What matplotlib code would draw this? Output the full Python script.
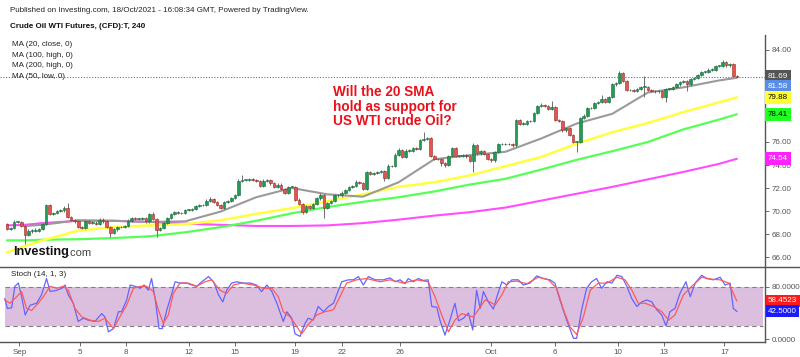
import numpy as np
import matplotlib
matplotlib.use("Agg")
import matplotlib.pyplot as plt
from matplotlib.transforms import blended_transform_factory
from matplotlib.lines import Line2D

plt.rcParams['font.family'] = ['Liberation Sans', 'DejaVu Sans']

# ---- price data (4h candles) ----
first_open = 68.87
close_px = [
    68.43, 68.55, 69.04, 69.07, 68.70, 67.90, 68.26, 68.30, 68.30, 68.45,
    68.87, 70.52, 69.74, 69.85, 70.00, 70.05, 70.26, 69.50, 69.20, 69.10,
    68.60, 68.55, 69.10, 69.00, 69.00, 68.90, 69.25, 69.10, 68.60, 68.10,
    68.40, 68.60, 68.60, 68.70, 69.15, 69.40, 69.30, 69.30, 69.35, 69.10,
    69.77, 69.30, 68.35, 68.50, 69.00, 69.40, 69.74, 69.94, 69.80, 69.85,
    70.10, 70.10, 70.20, 70.45, 70.50, 70.50, 70.90, 71.05, 70.80, 70.55,
    70.30, 70.80, 70.85, 71.15, 71.40, 72.64, 72.70, 72.70, 72.80, 72.70,
    72.60, 72.20, 72.65, 72.70, 72.40, 72.10, 72.30, 71.90, 71.55, 72.10,
    72.10, 71.00, 70.60, 69.95, 70.40, 70.30, 70.60, 71.10, 71.40, 70.30,
    70.70, 70.90, 71.40, 71.35, 71.60, 71.85, 72.10, 72.15, 72.55, 72.45,
    71.90, 73.40, 73.25, 73.30, 73.40, 73.45, 72.90, 73.90, 73.90, 74.90,
    75.30, 74.70, 75.25, 75.25, 75.50, 75.40, 76.20, 76.30, 76.35, 74.80,
    74.50, 74.55, 74.20, 74.00, 74.80, 75.50, 74.80, 74.80, 74.85, 74.75,
    74.35, 75.70, 75.00, 75.20, 74.95, 74.50, 74.40, 75.10, 75.80, 75.80,
    75.85, 75.80, 75.70, 77.90, 77.60, 77.60, 77.80, 77.85, 78.50, 79.10,
    79.20, 79.10, 78.90, 79.00, 77.90, 77.80, 77.00, 77.20, 76.60, 76.00,
    76.00, 78.10, 78.30, 78.93, 78.95, 79.40, 79.50, 79.75, 79.50, 79.90,
    81.00, 81.10, 82.00, 81.30, 80.50, 80.50, 80.45, 80.60, 80.80, 80.80,
    80.50, 80.45, 80.40, 80.40, 79.90, 80.60, 80.60, 80.80, 81.00, 81.20,
    81.30, 81.00, 81.50, 81.55, 81.80, 82.10, 82.10, 82.30, 82.30, 82.60,
    82.60, 82.98, 82.65, 82.80, 81.74, 81.69,
]
wick_up = [
    0.1, 0.1, 0.15, 0.1, 0.1, 0.1, 0.15, 0.1, 0.2, 0.1,
    0.1, 0.1, 0.1, 0.1, 0.1, 0.1, 0.15, 0.45, 0.1, 0.1,
    0.1, 0.1, 0.1, 0.15, 0.1, 0.1, 0.1, 0.1, 0.1, 0.1,
    0.1, 0.1, 0.1, 0.1, 0.15, 0.1, 0.1, 0.1, 0.15, 0.1,
    0.1, 0.15, 0.1, 0.1, 0.1, 0.1, 0.1, 0.1, 0.1, 0.1,
    0.1, 0.1, 0.1, 0.1, 0.1, 0.1, 0.15, 0.2, 0.1, 0.1,
    0.1, 0.1, 0.1, 0.1, 0.1, 0.15, 0.4, 0.1, 0.1, 0.1,
    0.1, 0.1, 0.1, 0.1, 0.1, 0.1, 0.1, 0.1, 0.1, 0.1,
    0.1, 0.1, 0.1, 0.1, 0.1, 0.1, 0.1, 0.1, 0.15, 0.1,
    0.1, 0.1, 0.1, 0.1, 0.1, 0.1, 0.1, 0.1, 0.15, 0.1,
    0.1, 0.1, 0.1, 0.1, 0.1, 0.1, 0.1, 0.15, 0.1, 0.1,
    0.2, 0.1, 0.1, 0.1, 0.1, 0.1, 0.1, 0.6, 0.1, 0.1,
    0.1, 0.1, 0.1, 0.1, 0.1, 0.1, 0.1, 0.1, 0.1, 0.1,
    0.1, 0.2, 0.1, 0.1, 0.1, 0.1, 0.1, 0.1, 0.1, 0.1,
    0.1, 0.1, 0.1, 0.1, 0.1, 0.1, 0.1, 0.1, 0.1, 0.1,
    0.15, 0.1, 0.1, 0.6, 0.1, 0.1, 0.1, 0.1, 0.1, 0.1,
    0.1, 0.1, 0.1, 0.1, 0.1, 0.1, 0.1, 0.35, 0.1, 0.1,
    0.1, 0.1, 0.2, 0.1, 0.1, 0.1, 0.1, 0.1, 0.1, 0.9,
    0.1, 0.1, 0.1, 0.1, 0.1, 0.1, 0.1, 0.1, 0.1, 0.1,
    0.1, 0.1, 0.1, 0.1, 0.1, 0.1, 0.1, 0.1, 0.1, 0.1,
    0.1, 0.12, 0.1, 0.1, 0.1, 0.05,
]
wick_dn = [
    0.1, 0.1, 0.1, 0.1, 0.1, 0.8, 0.1, 0.15, 0.1, 0.1,
    0.1, 0.1, 0.1, 0.1, 0.1, 0.1, 0.1, 0.1, 0.1, 0.1,
    0.1, 0.1, 0.1, 0.1, 0.1, 0.1, 0.1, 0.1, 0.1, 0.4,
    0.1, 0.1, 0.1, 0.1, 0.1, 0.1, 0.1, 0.1, 0.1, 0.1,
    0.1, 0.1, 0.6, 0.1, 0.1, 0.1, 0.1, 0.1, 0.1, 0.1,
    0.1, 0.1, 0.1, 0.1, 0.1, 0.1, 0.1, 0.1, 0.1, 0.1,
    0.1, 0.1, 0.1, 0.1, 0.1, 0.1, 0.1, 0.1, 0.1, 0.1,
    0.1, 0.1, 0.1, 0.1, 0.1, 0.1, 0.1, 0.1, 0.1, 0.1,
    0.1, 0.1, 0.1, 0.2, 0.1, 0.1, 0.1, 0.1, 0.1, 0.9,
    0.1, 0.1, 0.1, 0.1, 0.1, 0.1, 0.1, 0.1, 0.1, 0.1,
    0.1, 0.1, 0.1, 0.1, 0.1, 0.1, 0.3, 0.1, 0.1, 0.1,
    0.1, 0.1, 0.1, 0.1, 0.1, 0.1, 0.1, 0.1, 0.1, 0.1,
    0.1, 0.1, 0.3, 0.2, 0.1, 0.1, 0.1, 0.1, 0.1, 0.1,
    0.1, 1.0, 0.1, 0.1, 0.1, 0.1, 0.1, 0.1, 0.1, 0.1,
    0.1, 0.1, 0.1, 0.1, 0.1, 0.1, 0.1, 0.1, 0.1, 0.1,
    0.1, 0.1, 0.1, 0.1, 0.1, 0.1, 0.1, 0.1, 0.1, 0.1,
    0.9, 0.1, 0.1, 0.1, 0.1, 0.1, 0.1, 0.1, 0.1, 0.1,
    0.1, 0.1, 0.1, 0.1, 0.1, 0.1, 0.1, 0.1, 0.1, 0.9,
    0.1, 0.1, 0.1, 0.1, 0.1, 0.4, 0.1, 0.1, 0.1, 0.1,
    0.1, 0.6, 0.1, 0.1, 0.1, 0.1, 0.1, 0.1, 0.1, 0.1,
    0.1, 0.1, 0.1, 0.1, 0.1, 0.05,
]

# moving averages, sampled at these candles
ma_at = [0, 5, 10, 20, 30, 40, 50, 60, 70, 80, 90, 100, 110,
         120, 130, 140, 150, 160, 170, 180, 190, 200, 205]
ma20_close = [np.nan, 68.70, 68.80, 69.20, 69.15, 69.05, 69.10, 69.95, 71.20, 72.00, 71.45, 71.25, 72.50,
              74.50, 74.85, 75.15, 76.30, 77.60, 78.45, 80.30, 80.75, 81.35, 81.58]
ma100_high = [66.40, 66.95, 67.45, 68.30, 68.60, 68.75, 68.85, 69.20, 69.75, 70.25, 70.85, 71.45, 72.10,
              72.50, 73.10, 73.90, 74.70, 75.85, 76.85, 77.65, 78.60, 79.45, 79.88]
ma200_high = [67.45, 67.45, 67.50, 67.55, 67.65, 67.80, 68.15, 68.60, 69.15, 69.80, 70.35, 70.80, 71.20,
              71.70, 72.30, 72.80, 73.60, 74.45, 75.20, 76.00, 77.10, 77.95, 78.41]
ma50_low = [68.75, 68.80, 68.95, 69.15, 69.15, 69.05, 68.90, 68.80, 68.70, 68.70, 68.75, 68.95, 69.25,
            69.60, 69.90, 70.30, 70.90, 71.50, 72.10, 72.75, 73.40, 74.10, 74.54]

# stochastic (14, 1, 3)
stoch_k_at = [-0.6, 0.1, 1.3, 2.2, 3.2, 4.1, 5.1, 6.5, 8.3, 9.7, 11.1, 12.1, 14.0, 15.4, 16.3, 17.2,
              18.6, 20.0, 21.4, 22.8, 24.7, 26.6, 27.5, 28.5, 29.9, 31.3, 32.2, 33.6, 34.6, 36.0,
              37.4, 38.5, 39.7, 40.6, 41.6, 42.7, 43.6, 44.9, 46.3, 47.2, 48.6, 50.5, 51.9, 53.3,
              54.7, 56.6, 58.0, 59.4, 60.6, 61.7, 63.1, 64.5, 66.4, 68.3, 70.1, 71.5, 73.0, 74.4,
              75.8, 77.6, 78.6, 80.0, 80.9, 82.3, 83.7, 84.6, 86.0, 87.4, 88.9, 90.3, 91.7, 92.6,
              94.0, 95.9, 97.3, 98.7, 100.1, 101.5, 103.4, 105.7, 107.6, 109.0, 110.4, 111.8,
              112.7, 114.1, 115.5, 116.9, 118.3, 119.3, 120.7, 121.6, 123.0, 124.4, 125.8, 126.8,
              128.2, 129.6, 130.8, 131.9, 132.9, 133.8, 135.2, 136.6, 137.6, 139.0, 140.4, 141.8,
              143.6, 145.0, 146.9, 148.8, 150.7, 152.5, 153.9, 155.3, 157.2, 159.1, 160.0, 161.4,
              162.8, 164.2, 165.6, 167.0, 168.5, 169.9, 171.3, 172.7, 174.1, 175.5, 176.9, 178.3,
              179.7, 181.1, 182.5, 183.9, 185.1, 186.2, 187.6, 189.0, 190.7, 191.9, 193.3, 195.1,
              196.5, 198.4, 200.3, 201.7, 203.1, 204.0, 205.0]
stoch_k = [62, 47, 48, 81, 86, 65, 37, 52, 55, 68, 93, 73, 75, 78, 83, 68,
           55, 27, 32, 29, 27, 39, 34, 11, 16, 42, 42, 60, 83, 81,
           78, 83, 75, 93, 62, 16, 16, 45, 70, 88, 86, 86, 83, 81,
           88, 96, 88, 68, 57, 75, 86, 88, 86, 86, 83, 73, 83, 73,
           55, 27, 42, 32, 8, 4, 24, 32, 29, 50, 42, 50, 55, 68,
           88, 91, 91, 96, 83, 96, 91, 91, 94, 88, 91, 85,
           93, 88, 93, 90, 91, 50, 49, 29, 6, 29, 55, 28,
           32, 40, 14, 75, 47, 73, 57, 46, 65, 88, 83, 91,
           91, 83, 86, 97, 93, 91, 86, 60, 29, 1, 1, 45,
           78, 88, 93, 78, 88, 86, 98, 96, 81, 62, 50, 57,
           60, 57, 45, 37, 20, 42, 47, 70, 88, 65, 86, 98,
           93, 91, 95, 83, 86, 47, 42.5]
stoch_d_at = [-0.6, 0.8, 2.7, 4.1, 5.5, 6.9, 8.3, 10.2, 12.1, 14.0, 15.8, 17.2, 19.1, 21.0, 23.3,
              25.7, 27.5, 29.9, 31.7, 33.6, 35.5, 37.4, 39.2, 41.1, 42.5, 43.9, 45.3, 46.7, 48.6,
              50.9, 53.3, 55.6, 57.5, 59.8, 61.7, 63.6, 65.9, 69.2, 72.0, 74.4, 76.2, 77.6, 79.5,
              81.4, 82.8, 84.6, 87.0, 89.3, 91.7, 93.5, 95.4, 98.2, 101.0, 104.8, 107.6, 111.3,
              115.1, 118.3, 120.2, 122.1, 124.0, 125.8, 127.7, 129.6, 131.0, 132.4, 134.3, 135.7,
              137.1, 139.0, 140.8, 143.2, 146.0, 149.2, 152.1, 154.4, 156.3, 158.1, 160.0, 161.9,
              163.8, 166.1, 168.5, 171.3, 173.6, 175.5, 177.3, 179.2, 181.6, 183.9, 185.8, 187.6,
              190.0, 192.3, 195.1, 197.9, 200.3, 202.7, 205.0]
stoch_d = [60, 55, 65, 73, 47, 44, 52, 65, 81, 78, 81, 75, 47, 34, 29,
           27, 32, 16, 34, 52, 78, 81, 81, 73, 45, 24, 37, 70, 86,
           86, 81, 88, 91, 75, 70, 83, 86, 83, 78, 78, 65, 42, 34,
           19, 8, 22, 37, 42, 45, 65, 86, 91, 93, 88, 91, 86,
           91, 88, 65, 37, 11, 29, 39, 36, 34, 45, 60, 57,
           52, 68, 88, 89, 85, 95, 91, 78, 45, 19, 7, 34,
           75, 86, 86, 95, 91, 75, 55, 55, 50, 42, 29, 37,
           68, 81, 95, 92, 91, 86, 58.45]

date_labels = ['Sep', '5', '8', '12', '15', '19', '22', '26', 'Oct', '6', '10', '13', '17']
date_candles = [3.5, 20.5, 33.5, 51, 64, 81, 94, 110.5, 136, 154, 171.5, 184.5, 201.5]

legend_lines = ['MA (20, close, 0)', 'MA (100, high, 0)', 'MA (200, high, 0)', 'MA (50, low, 0)']
price_ticks = [66, 68, 70, 72, 74, 76, 78, 80, 82, 84]
last_price = 81.69

# ---- figure ----
W, H = 800, 357
fig = plt.figure(figsize=(W / 100, H / 100), dpi=100)
fig.patch.set_facecolor('white')

def fy(px):
    return 1 - px / H

main_top, main_bot, st_bot, ax_right = 35, 266.7, 341.7, 765
ax = fig.add_axes([0, fy(main_bot), ax_right / W, (main_bot - main_top) / H])
sx = fig.add_axes([0, fy(st_bot), ax_right / W, (st_bot - main_bot) / H])

xlim = (-1.97, 212.9)
ax.set_xlim(*xlim)
ax.set_ylim(65.16, 85.30)
sx.set_xlim(*xlim)
sx.set_ylim(-4.15, 111.2)

grey_txt = '#555555'
for a in (ax, sx):
    for s in a.spines.values():
        s.set_visible(False)
    a.spines['right'].set_visible(True)
    a.spines['right'].set_color('#555555')
    a.spines['right'].set_linewidth(1.0)
    a.yaxis.tick_right()
    a.tick_params(axis='y', direction='out', length=3, pad=2, labelsize=5.8,
                  colors=grey_txt, width=0.6)
sx.spines['bottom'].set_visible(True)
sx.spines['bottom'].set_color('#555555')
sx.spines['bottom'].set_linewidth(1.0)
ax.set_xticks([])

# moving averages
ma_x = np.array(ma_at)
ax.plot(ma_x, ma50_low, color='#ff4dff', lw=1.5, zorder=2, solid_capstyle='round')
ax.plot(ma_x, ma200_high, color='#55ff55', lw=1.6, zorder=2, solid_capstyle='round')
ax.plot(ma_x, ma100_high, color='#ffff40', lw=1.8, zorder=2, solid_capstyle='round')
ax.plot(ma_x, ma20_close, color='#9a9a9a', lw=1.5, zorder=2, solid_capstyle='round')

# candles
c = np.array(close_px)
o = np.concatenate([[first_open], c[:-1]])
idx = np.arange(len(c))
top = np.maximum(o, c)
bot = np.minimum(o, c)
hi = top + np.array(wick_up)
lo = bot - np.array(wick_dn)
body = np.maximum(top - bot, 0.05)
up = c >= o
ax.vlines(idx, lo, hi, color='#6e6e6e', lw=0.7, zorder=3)
ax.bar(idx[up], body[up], bottom=bot[up], width=0.72, color='#1e9c55',
       edgecolor='#16693a', linewidth=0.4, zorder=4)
ax.bar(idx[~up], body[~up], bottom=bot[~up], width=0.72, color='#e8544d',
       edgecolor='#8c2a26', linewidth=0.4, zorder=4)

# last price dotted line
ax.axhline(last_price, color='#4d72d6', lw=0.8, ls=(0, (1, 1.5)), zorder=1)

# price scale: labels at 80 and 82 sit fully under the value boxes
ax.set_yticks(price_ticks)
ax.set_yticklabels(['' if v in (80, 82) else '%.2f' % v for v in price_ticks])

# value boxes on price scale (shift in points keeps the two close boxes apart)
tr = blended_transform_factory(ax.transAxes, ax.transData)
boxes = [(81.69, '#555555', 'white', 0), (81.58, '#5a8ee6', 'white', -6),
         (79.88, '#ffff33', 'black', 0), (78.41, '#22ff22', 'black', 0),
         (74.54, '#ff22ff', 'white', 0)]
for val, bg, fg, shift in boxes:
    ax.annotate('%.2f' % val, xy=(1.004, val), xycoords=tr, xytext=(0, shift),
                textcoords='offset points', fontsize=5.8, color=fg,
                va='center', ha='left', zorder=20, annotation_clip=False,
                bbox=dict(boxstyle='square,pad=0.35', fc=bg, ec='none'))

# stochastic panel
sx.axhspan(20, 80, xmin=5 / ax_right, xmax=763 / ax_right, color='#dcbfdf', zorder=0, lw=0)
for lvl in (20, 80):
    sx.plot([-0.6, 212.3], [lvl, lvl], color='#8a7a8a', lw=0.8, ls=(0, (4, 3)), zorder=1)
sx.plot(stoch_k_at, stoch_k, color='#6464ff', lw=0.9, zorder=3)
sx.plot(stoch_d_at, stoch_d, color='#ff5a5a', lw=0.9, zorder=4)
sx.set_yticks([0, 40, 80])
sx.set_yticklabels(['0.0000', '', '80.0000'])
sx.set_xticks(date_candles)
sx.set_xticklabels(date_labels)
sx.tick_params(axis='x', direction='out', length=3, pad=2, labelsize=5.8,
               colors=grey_txt, width=0.6)

tr2 = blended_transform_factory(sx.transAxes, sx.transData)
for val, bg in [(58.4523, '#ff1a1a'), (42.5, '#1a1aff')]:
    sx.text(1.004, val, '%.4f' % val, transform=tr2, fontsize=5.8, color='white',
            va='center', ha='left', zorder=20, clip_on=False,
            bbox=dict(boxstyle='square,pad=0.3', fc=bg, ec='none'))
sx.text(11 / ax_right, 99, 'Stoch (14, 1, 3)', fontsize=5.8, color='#222222',
        transform=tr2, va='center', ha='left')

# separator between panels
fig.add_artist(Line2D([0, 1], [fy(main_bot), fy(main_bot)], transform=fig.transFigure,
                      color='#555555', lw=1.0))

# header texts
fig.text(10 / W, fy(10), 'Published on Investing.com, 18/Oct/2021 - 16:08:34 GMT, Powered by TradingView.',
         fontsize=5.8, color='#222222', va='center', ha='left')
fig.text(10 / W, fy(27), 'Crude Oil WTI Futures, (CFD):T, 240', fontsize=5.8,
         fontweight='bold', color='#111111', va='center', ha='left')
for k, line in enumerate(legend_lines):
    fig.text(12 / W, fy(45 + 10.4 * k), line, fontsize=5.8, color='#222222',
             va='center', ha='left')

# red annotation
note_lines = ['Will the 20 SMA', 'hold as support for', 'US WTI crude Oil?']
for k, line in enumerate(note_lines):
    fig.text(333 / W, fy(92 + 14.5 * k), line, fontsize=9.8, fontweight='bold',
             color='#e8121c', va='center', ha='left')

# logo
fig.text(13 / W, fy(252), 'Investing', fontsize=9.2, fontweight='bold',
         color='#111111', va='center', ha='left')
fig.text(67 / W, fy(253), '.com', fontsize=8, color='#444444', va='center', ha='left')

fig.savefig('out.png', dpi=100, facecolor='white')
